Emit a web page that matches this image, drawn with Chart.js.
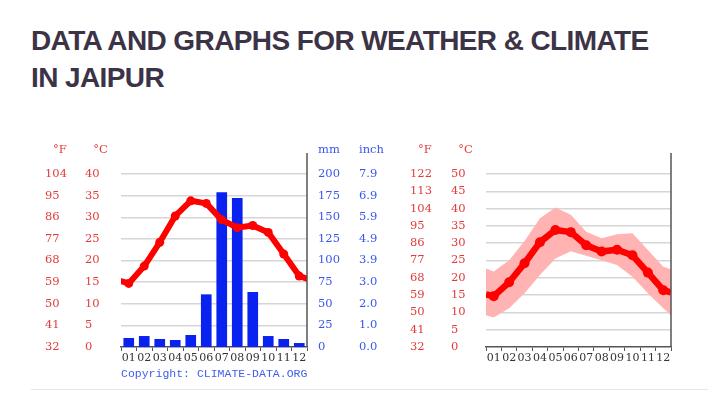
<!DOCTYPE html>
<html>
<head>
<meta charset="utf-8">
<script src="https://cdn.jsdelivr.net/npm/chart.js@4.4.1/dist/chart.umd.min.js"></script>
<style>
    body { margin: 0; background: #fff; width: 708px; height: 400px; overflow: hidden; position: relative; }
    h2 {
        position: absolute; left: 31px; top: 22px; margin: 0;
        font: bold 28px 'Liberation Sans', Arial, sans-serif; line-height: 37px;
        letter-spacing: -0.6px; color: #3c3346;
    }
    .wrap { position: absolute; }
    #leftWrap { left: 45px; top: 140px; width: 340px; height: 235px; }
    #rightWrap { left: 410px; top: 140px; width: 280px; height: 235px; }
    .copy { position: absolute; left: 121px; top: 367px; font: 11.5px 'Liberation Mono', monospace; color: #3f5fec; }
    .sep { position: absolute; left: 31px; right: 0; top: 389px; height: 1px; background: #e6e6e6; }
</style>
</head>
<body>
<h2>DATA AND GRAPHS FOR WEATHER &amp; CLIMATE<br>IN JAIPUR</h2>
<div class="wrap" id="leftWrap"><canvas id="climateChart"></canvas></div>
<div class="wrap" id="rightWrap"><canvas id="tempChart"></canvas></div>
<div class="copy">Copyright: CLIMATE-DATA.ORG</div>
<div class="sep"></div>
<script>
// months and values
const months = ['01', '02', '03', '04', '05', '06', '07', '08', '09', '10', '11', '12'];
const meanTemp = [14.7, 18.7, 24.2, 30.3, 33.8, 33.2, 29.4, 27.6, 28.1, 26.5, 21.5, 16.4];
const meanTempEdges = [15.2, 15.8];      // where the line meets the left and right frame
const maxTemp = [21.8, 25.1, 30.6, 37.2, 40.3, 38.2, 33.3, 31.4, 32.6, 32.9, 28.0, 23.2];
const maxTempEdges = [22.7, 22.5];
const minTemp = [8.5, 11.2, 15.5, 20.8, 25.6, 27.7, 26.4, 25.1, 23.7, 20.3, 15.5, 11.2];
const minTempEdges = [9.2, 9.2];
const precipMM = [10.0, 12.3, 8.9, 7.7, 13.5, 60.5, 178.4, 171.9, 63.2, 12.3, 8.9, 4.2];

// tick labels
const celsiusTicksLeft = [0, 5, 10, 15, 20, 25, 30, 35, 40];
const fahrenheitTicksLeft = [32, 41, 50, 59, 68, 77, 86, 95, 104];
const celsiusTicksRight = [0, 5, 10, 15, 20, 25, 30, 35, 40, 45, 50];
const fahrenheitTicksRight = [32, 41, 50, 59, 68, 77, 86, 95, 104, 113, 122];
const mmTicks = [0, 25, 50, 75, 100, 125, 150, 175, 200];
const inchTicks = ['0.0', '1.0', '2.0', '3.0', '3.9', '4.9', '5.9', '6.9', '7.9'];

const RED = '#e23b3b';
const BLUE = '#3a56ee';
const tickFont = { family: "'DejaVu Serif', serif", size: 11.5 };
const monthFont = { family: "'DejaVu Serif', serif", size: 11 };

function withEdges(values, edges) {
    const pts = values.map((v, i) => ({ x: i + 1, y: v }));
    return [{ x: 0.5, y: edges[0] }, ...pts, { x: months.length + 0.5, y: edges[1] }];
}

function fixedTicks(list) {
    return scale => { scale.ticks = list.map(v => ({ value: v })); };
}

// headers above the axes and the tall frame line on the right
const decorPlugin = {
    id: 'decor',
    afterDraw(chart, args, opts) {
        const { ctx, chartArea } = chart;
        ctx.save();
        ctx.strokeStyle = '#555';
        ctx.lineWidth = 1.5;
        ctx.beginPath();
        ctx.moveTo(chartArea.right, chartArea.top - 21);
        ctx.lineTo(chartArea.right, chartArea.bottom);
        ctx.stroke();

        ctx.font = `${tickFont.size}px ${tickFont.family}`;
        ctx.textBaseline = 'middle';
        ctx.textAlign = 'left';
        Object.entries(opts.headers || {}).forEach(([id, h]) => {
            const scale = chart.scales[id];
            const pad = scale.options.ticks.padding;
            let x;
            if (scale.position === 'left') {
                const widest = Math.max(...scale.ticks.map(t => ctx.measureText(String(t.label)).width));
                x = scale.right - pad - widest;
            } else {
                x = scale.left + pad;
            }
            ctx.fillStyle = h.color;
            ctx.fillText(h.text, x, chartArea.top - 24);
        });
        ctx.restore();
    }
};

function xAxis() {
    return {
        type: 'linear',
        min: 0.5,
        max: months.length + 0.5,
        offset: false,
        afterBuildTicks: scale => { scale.ticks = months.map((m, i) => ({ value: i + 1 })); },
        ticks: { callback: (v, i) => months[i], autoSkip: false, maxRotation: 0, padding: 1, color: '#333', font: monthFont },
        grid: { offset: true, drawOnChartArea: false, drawTicks: true, tickLength: 4, color: '#555' },
        border: { color: '#555', width: 1.5 },
        afterFit: scale => { scale.height = 28; }
    };
}

function celsiusAxis(list, pad, width) {
    return {
        position: 'left', weight: 0, min: list[0], max: list[list.length - 1],
        afterBuildTicks: fixedTicks(list),
        ticks: { color: RED, font: tickFont, crossAlign: 'far', padding: pad },
        grid: { drawTicks: false, lineWidth: 1.5, color: c => c.tick && c.tick.value === 0 ? 'rgba(0,0,0,0)' : '#d6d6d6' },
        border: { display: false },
        afterFit: scale => { scale.width = width; }
    };
}

function fahrenheitAxis(list, pad, width) {
    return {
        position: 'left', weight: 1, min: list[0], max: list[list.length - 1],
        afterBuildTicks: fixedTicks(list),
        ticks: { color: RED, font: tickFont, crossAlign: 'far', padding: pad },
        grid: { display: false, drawTicks: false },
        border: { display: false },
        afterFit: scale => { scale.width = width; }
    };
}

const commonPlugins = { legend: { display: false }, tooltip: { enabled: false } };

new Chart(document.getElementById('climateChart'), {
    type: 'line',
    data: {
        datasets: [{
            type: 'line',
            data: withEdges(meanTemp, meanTempEdges),
            yAxisID: 'yC',
            borderColor: '#ff0000',
            backgroundColor: '#ff0000',
            borderWidth: 6,
            borderJoinStyle: 'round',
            borderCapStyle: 'round',
            pointRadius: c => (c.dataIndex === 0 || c.dataIndex === months.length + 1) ? 0 : 4.5,
            pointBorderWidth: 0,
            tension: 0,
            order: 0
        }, {
            type: 'bar',
            data: precipMM.map((v, i) => ({ x: i + 1, y: v })),
            yAxisID: 'yMM',
            backgroundColor: '#0a22f0',
            barThickness: 10,
            order: 1
        }]
    },
    options: {
        responsive: true,
        maintainAspectRatio: false,
        animation: false,
        layout: { padding: { top: 34, right: 0, bottom: 0, left: 0 } },
        plugins: {
            ...commonPlugins,
            decor: {
                headers: {
                    yF: { text: '°F', color: RED },
                    yC: { text: '°C', color: RED },
                    yMM: { text: 'mm', color: BLUE },
                    yIn: { text: 'inch', color: BLUE }
                }
            }
        },
        scales: {
            x: xAxis(),
            yC: celsiusAxis(celsiusTicksLeft, 13, 36),
            yF: fahrenheitAxis(fahrenheitTicksLeft, 10, 40),
            yMM: {
                position: 'right', weight: 0, min: 0, max: 200,
                afterBuildTicks: fixedTicks(mmTicks),
                ticks: { color: BLUE, font: tickFont, crossAlign: 'near', padding: 11 },
                grid: { display: false, drawTicks: false },
                border: { display: false },
                afterFit: scale => { scale.width = 41; }
            },
            yIn: {
                position: 'right', weight: 1, min: 0, max: 200,
                afterBuildTicks: fixedTicks(mmTicks),
                ticks: { color: BLUE, font: tickFont, crossAlign: 'near', padding: 11, callback: (v, i) => inchTicks[i] },
                grid: { display: false, drawTicks: false },
                border: { display: false },
                afterFit: scale => { scale.width = 37; }
            }
        }
    },
    plugins: [decorPlugin]
});

new Chart(document.getElementById('tempChart'), {
    type: 'line',
    data: {
        datasets: [{
            data: withEdges(meanTemp, meanTempEdges),
            yAxisID: 'yC',
            borderColor: '#ff0000',
            backgroundColor: '#ff0000',
            borderWidth: 6.5,
            borderJoinStyle: 'round',
            pointRadius: c => (c.dataIndex === 0 || c.dataIndex === months.length + 1) ? 0 : 5,
            pointBorderWidth: 0,
            tension: 0,
            order: 0
        }, {
            data: withEdges(maxTemp, maxTempEdges),
            yAxisID: 'yC',
            borderWidth: 0,
            pointRadius: 0,
            backgroundColor: '#ffb3b3',
            fill: '+1',
            tension: 0,
            order: 1
        }, {
            data: withEdges(minTemp, minTempEdges),
            yAxisID: 'yC',
            borderWidth: 0,
            pointRadius: 0,
            fill: false,
            tension: 0,
            order: 2
        }]
    },
    options: {
        responsive: true,
        maintainAspectRatio: false,
        animation: false,
        layout: { padding: { top: 34, right: 19, bottom: 0, left: 0 } },
        plugins: {
            ...commonPlugins,
            decor: {
                headers: {
                    yF: { text: '°F', color: RED },
                    yC: { text: '°C', color: RED }
                }
            }
        },
        scales: {
            x: xAxis(),
            yC: celsiusAxis(celsiusTicksRight, 13, 35),
            yF: fahrenheitAxis(fahrenheitTicksRight, 11, 41)
        }
    },
    plugins: [decorPlugin]
});
</script>
</body>
</html>
